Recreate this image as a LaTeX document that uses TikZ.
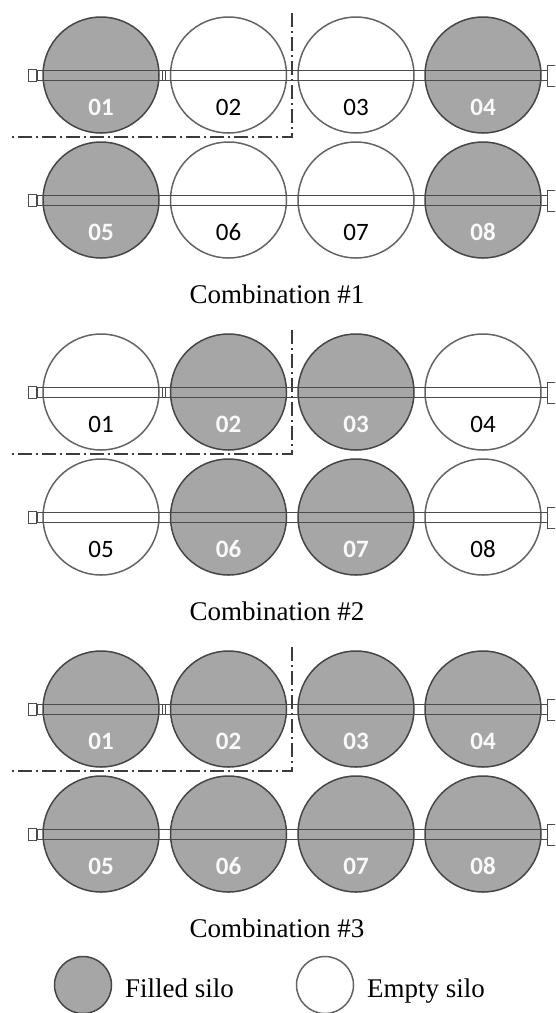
\documentclass[tikz,border=0pt]{standalone}
\usepackage{fontspec}
\setmainfont{Liberation Serif}
\newfontfamily\numfont{Carlito}
\usetikzlibrary{calc}

\definecolor{silofill}{RGB}{166,166,166}
\definecolor{siloedge}{RGB}{70,70,70}
\definecolor{emptyedge}{RGB}{100,100,100}
\definecolor{pipecol}{RGB}{75,75,75}
\definecolor{bordercol}{RGB}{60,60,60}

\tikzset{
  silo/.style={circle, minimum size=116pt, inner sep=0pt, line width=1.5pt},
  full/.style={silo, draw=siloedge, fill=silofill},
  empty/.style={silo, draw=emptyedge, fill=white},
  full num/.style={font=\numfont\bfseries\fontsize{25}{25}\selectfont, text=white!95!gray, inner sep=0pt},
  empty num/.style={font=\numfont\fontsize{25}{25}\selectfont, text=black, inner sep=0pt},
  pipe/.style={draw=pipecol, line width=1pt},
  border/.style={draw=bordercol, line width=1.4pt,
    dash pattern=on 14pt off 4pt on 2pt off 4pt},
  caption/.style={font=\fontsize{27}{27}\selectfont, inner sep=0pt},
}

% one row of four silos on a common pipe
% #1 name prefix, #2 centre line y, #3 first silo number, #4-#7 silo styles
\newcommand\silorow[7]{%
  \node[#4] (#1a) at (101,#2) {};
  \node[#5] (#1b) at (228.5,#2) {};
  \node[#6] (#1c) at (356,#2) {};
  \node[#7] (#1d) at (483,#2) {};
  \node[#4 num] (#1an) at ($(#1a)+(0,32)$) {0\the\numexpr#3\relax};
  \node[#5 num] (#1bn) at ($(#1b)+(0,32)$) {0\the\numexpr#3+1\relax};
  \node[#6 num] (#1cn) at ($(#1c)+(0,32)$) {0\the\numexpr#3+2\relax};
  \node[#7 num] (#1dn) at ($(#1d)+(0,32)$) {0\the\numexpr#3+3\relax};
  % pipe with its end caps
  \draw[pipe] (37,#2-5) rectangle (547,#2+5);
  \draw[pipe] (28,#2-6) rectangle (36,#2+6);
  \draw[pipe] (547,#2-10) rectangle (562,#2+11);
}

% one combination: two rows, the dash-dot limit and the caption
% #1 name prefix, #2 vertical offset, #3 caption number, #4-#7 silo styles
\newcommand\combination[7]{%
  \silorow{#1r}{75+#2}{1}{#4}{#5}{#6}{#7}
  \draw[pipe] (162,75+#2-5) -- (162,75+#2+5) (165,75+#2-5) -- (165,75+#2+5);
  \silorow{#1s}{200+#2}{5}{#4}{#5}{#6}{#7}
  \draw[border] (292,13+#2) -- (292,137+#2) -- (10,137+#2);
  \node[caption, anchor=base] (#1cap) at (277,303+#2) {Combination \##3};
}

\begin{document}
\begin{tikzpicture}[x=1pt, y=-1pt]
  \useasboundingbox (0,0) rectangle (555,1013);
  \clip (0,0) rectangle (555,1013);
  \fill[white] (0,0) rectangle (555,1013);

  \combination{ga}{0}{1}{full}{empty}{empty}{full}
  \combination{gb}{317}{2}{empty}{full}{full}{empty}
  \combination{gc}{634}{3}{full}{full}{full}{full}

  % legend
  \node[full, minimum size=57pt] (lfull) at (83,985) {};
  \node[caption, anchor=base west] (lfulltxt) at (125,997) {Filled silo};
  \node[empty, minimum size=57pt] (lempty) at (325,985) {};
  \node[caption, anchor=base west] (lemptytxt) at (367,997) {Empty silo};
\end{tikzpicture}
\end{document}
